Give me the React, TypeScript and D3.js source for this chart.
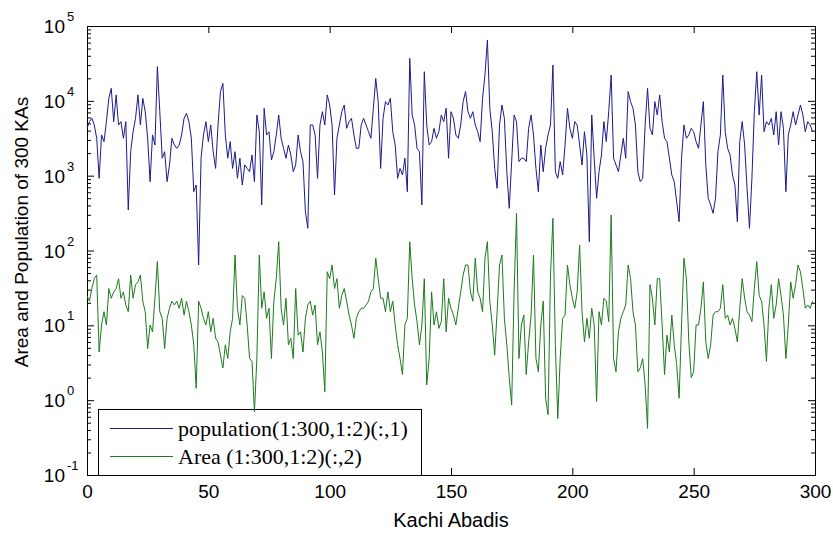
import { useEffect, useRef } from "react";
import * as d3 from "d3";

// Population of the 300 Kachi Abadis
const populationKA: number[] = [
  4290, 5270, 5840, 4760, 3160, 921, 3500, 2850, 5270, 10800,
  14700, 5270, 12000, 4760, 5270, 3160, 5270, 348, 2090, 3870,
  5840, 12000, 4760, 10800, 7160, 3160, 832, 3500, 2570, 28600,
  7160, 1710, 2090, 832, 1390, 3160, 2570, 2320, 2570, 3500,
  5840, 6800, 5270, 3160, 611, 750, 64, 1710, 3500, 5270,
  2850, 4760, 2090, 1250, 4760, 13300, 17100, 3500, 1710, 2850,
  1250, 2090, 921, 1710, 750, 1390, 1250, 1130, 1890, 832,
  6470, 3870, 406, 7940, 3500, 3870, 1620, 2090, 3500, 6470,
  3160, 2320, 1710, 2570, 1890, 1130, 1390, 3500, 2090, 1540,
  330, 198, 4760, 4760, 3500, 921, 4760, 7160, 4760, 12000,
  8800, 4760, 552, 3160, 4760, 7160, 8800, 4290, 5270, 5840,
  3500, 2320, 2320, 4760, 5840, 4760, 3870, 3160, 7940, 19900,
  9750, 1250, 5840, 9750, 8800, 10800, 3870, 2570, 921, 1250,
  1020, 1710, 611, 37000, 6470, 4760, 2320, 2090, 406, 24500,
  4760, 2570, 2850, 4290, 3160, 3870, 6470, 5270, 7940, 1710,
  7160, 5840, 3500, 3160, 4760, 9750, 13300, 7160, 5840, 7160,
  4760, 3870, 2850, 10800, 22100, 65000, 7940, 3870, 1250, 677,
  4760, 8800, 5840, 1130, 366, 1540, 6470, 5270, 1540, 1710,
  1710, 1540, 4290, 6470, 3500, 1250, 611, 2570, 1130, 2320,
  3500, 4760, 30100, 1130, 921, 1540, 1020, 2570, 7940, 4290,
  3160, 5270, 4760, 2570, 1390, 3870, 1890, 131, 6470, 1710,
  498, 1130, 1890, 5270, 2850, 7160, 22100, 1710, 1390, 1130,
  1890, 3160, 1710, 13300, 9750, 7940, 4760, 1130, 832, 921,
  4760, 14700, 4290, 3500, 9750, 6470, 12000, 5270, 3160, 2850,
  1710, 1020, 832, 449, 243, 1710, 4760, 3160, 3500, 4290,
  3870, 2850, 2320, 4760, 9750, 1390, 498, 406, 314, 498,
  2090, 3500, 22100, 3870, 2320, 1890, 1020, 750, 243, 2850,
  5270, 2570, 677, 198, 921, 7160, 24500, 6470, 22100, 3870,
  5270, 4760, 5840, 3500, 7160, 2570, 7160, 4290, 611, 3500,
  4760, 7160, 4760, 6470, 8800, 6470, 3870, 5270, 4760, 3870,
];

// Area of the same 300 KAs
const areaKA: number[] = [
  25, 21, 31, 42, 47, 4.4, 10.1, 15.2, 10.1, 31,
  23, 28, 31, 42, 23, 28, 18.7, 15.2, 47, 23,
  35, 38, 47, 21, 15.2, 4.9, 10.1, 8.2, 23, 71,
  15.2, 12.4, 4.9, 12.4, 16.9, 21, 18.7, 21, 16.9, 23,
  13.7, 21, 15.2, 10.1, 5.5, 1.44, 21, 16.9, 12.4, 10.1,
  15.2, 8.2, 12.4, 6.7, 6.0, 4.0, 2.7, 5.5, 3.6, 8.2,
  12.4, 87, 16.9, 10.1, 25, 23, 10.1, 3.6, 3.3, 0.7,
  3.6, 87, 16.9, 28, 12.4, 16.9, 3.6, 21, 42, 131,
  16.9, 10.1, 23, 5.5, 6.7, 3.6, 31, 7.4, 8.2, 4.4,
  12.4, 18.7, 21, 13.7, 18.7, 5.5, 8.2, 4.4, 1.3, 52,
  42, 64, 31, 42, 16.9, 25, 31, 21, 13.7, 10.1,
  6.7, 12.4, 15.2, 16.9, 16.9, 18.7, 21, 28, 31, 79,
  42, 23, 23, 15.2, 28, 15.2, 21, 10.1, 5.5, 3.6,
  2.2, 10.1, 12.4, 131, 42, 18.7, 11.2, 5.5, 10.1, 42,
  1.6, 3.6, 28, 10.1, 15.2, 9.1, 11.2, 42, 8.2, 23,
  16.9, 13.7, 10.1, 16.9, 28, 47, 64, 64, 28, 21,
  79, 28, 23, 15.2, 79, 131, 21, 10.1, 4.0, 15.2,
  64, 87, 12.4, 5.5, 2.0, 0.86, 28, 314, 3.6, 10.1,
  13.7, 2.2, 6.0, 13.7, 87, 3.6, 2.4, 10.1, 21, 1.06,
  0.64, 47, 269, 5.5, 0.57, 3.6, 12.4, 13.7, 64, 35,
  23, 16.9, 28, 118, 15.2, 6.0, 12.4, 6.7, 16.9, 10.1,
  0.96, 15.2, 10.1, 23, 21, 11.2, 298, 3.6, 2.4, 8.2,
  12.4, 15.2, 18.7, 64, 42, 15.2, 10.1, 2.4, 2.7, 3.6,
  1.6, 0.42, 35, 23, 10.1, 42, 42, 10.1, 2.2, 7.4,
  4.4, 13.7, 5.5, 3.0, 1.06, 10.1, 79, 42, 6.0, 2.0,
  2.4, 10.1, 10.1, 16.9, 38, 6.0, 3.6, 5.5, 13.7, 15.2,
  15.2, 16.9, 35, 12.4, 13.7, 10.1, 12.4, 9.1, 6.0, 16.9,
  42, 23, 15.2, 13.7, 11.2, 31, 71, 25, 21, 10.1,
  3.3, 16.9, 35, 12.4, 18.7, 42, 25, 13.7, 3.6, 10.1,
  38, 23, 35, 64, 52, 31, 16.9, 18.7, 16.9, 21,
];

const xTicks = [0, 50, 100, 150, 200, 250, 300];
const yDomain = [0.1, 100000];
const legendLabels = ["population(1:300,1:2)(:,1)", "Area (1:300,1:2)(:,2)"];
const xLabel = "Kachi Abadis";
const yLabel = "Area and Population of 300 KAs";

const popColor = "#1b1b8c";
const areaColor = "#1d7a1d";
const sans = "'Liberation Sans', Arial, Helvetica, sans-serif";
const serif = "'Liberation Serif', 'Times New Roman', serif";

const App = () => {
  const svgRef = useRef<SVGSVGElement | null>(null);

  useEffect(() => {
    const width = 833;
    const height = 535;
    const margin = { top: 26, right: 18, bottom: 60, left: 87 };
    const innerWidth = width - margin.left - margin.right;
    const innerHeight = height - margin.top - margin.bottom;

    const svg = d3.select(svgRef.current);
    svg.selectAll("*").remove();
    svg.attr("width", width).attr("height", height);

    svg.append("rect").attr("width", width).attr("height", height).attr("fill", "#fff");

    const g = svg.append("g").attr("transform", `translate(${margin.left},${margin.top})`);

    const x = d3.scaleLinear().domain([0, 300]).range([0, innerWidth]);
    const y = d3.scaleLog().domain(yDomain).range([innerHeight, 0]);

    const allTicks = y.ticks();
    const major = allTicks.filter((v) => Math.abs(Math.log10(v) - Math.round(Math.log10(v))) < 1e-9);
    const minor = allTicks.filter((v) => !major.includes(v));

    // ticks pointing inward on all four sides (matlab box)
    const xb = g
      .append("g")
      .attr("transform", `translate(0,${innerHeight})`)
      .call(d3.axisBottom(x).tickValues(xTicks).tickSize(-7).tickSizeOuter(0).tickPadding(10).tickFormat(d3.format("d")));
    xb.select(".domain").remove();
    xb.selectAll("text").attr("font-size", 19).attr("font-family", sans).attr("fill", "#000");

    const xt = g.append("g").call(d3.axisTop(x).tickValues(xTicks).tickSize(-7).tickSizeOuter(0).tickFormat(() => ""));
    xt.select(".domain").remove();

    const addY = (vals: number[], size: number) => {
      const l = g.append("g").call(d3.axisLeft(y).tickValues(vals).tickSize(-size).tickSizeOuter(0).tickFormat(() => ""));
      l.select(".domain").remove();
      const r = g
        .append("g")
        .attr("transform", `translate(${innerWidth},0)`)
        .call(d3.axisRight(y).tickValues(vals).tickSize(-size).tickSizeOuter(0).tickFormat(() => ""));
      r.select(".domain").remove();
    };
    addY(major, 7);
    addY(minor, 4);

    // y tick labels as 10^n
    major.forEach((v) => {
      const e = Math.round(Math.log10(v));
      g.append("text")
        .attr("x", -22)
        .attr("y", y(v) + 7)
        .attr("text-anchor", "end")
        .attr("font-size", 19)
        .attr("font-family", sans)
        .text("10");
      g.append("text")
        .attr("x", -20)
        .attr("y", y(v) - 5)
        .attr("font-size", 13)
        .attr("font-family", sans)
        .text(String(e));
    });

    // frame
    g.append("rect")
      .attr("x", 0.5)
      .attr("y", 0.5)
      .attr("width", innerWidth)
      .attr("height", innerHeight)
      .attr("fill", "none")
      .attr("stroke", "#000");

    // legend
    const lg = g.append("g");
    lg.append("rect")
      .attr("x", 11.5)
      .attr("y", 383.5)
      .attr("width", 323)
      .attr("height", innerHeight - 383)
      .attr("fill", "#fff")
      .attr("stroke", "#000");
    [popColor, areaColor].forEach((c, i) => {
      const ly = 402.5 + i * 28;
      lg.append("line").attr("x1", 23).attr("x2", 86).attr("y1", ly).attr("y2", ly).attr("stroke", c);
      lg.append("text")
        .attr("x", 91)
        .attr("y", ly + 7)
        .attr("font-size", 22)
        .attr("font-family", serif)
        .text(legendLabels[i]);
    });

    const line = d3
      .line<number>()
      .x((_, i) => x(i))
      .y((d) => y(d));

    g.append("path").datum(populationKA).attr("fill", "none").attr("stroke", popColor).attr("stroke-width", 1).attr("d", line);
    g.append("path").datum(areaKA).attr("fill", "none").attr("stroke", areaColor).attr("stroke-width", 1).attr("d", line);

    // axis titles
    svg
      .append("text")
      .attr("x", margin.left + innerWidth / 2)
      .attr("y", 527)
      .attr("text-anchor", "middle")
      .attr("font-size", 20)
      .attr("font-family", sans)
      .text(xLabel);

    svg
      .append("text")
      .attr("transform", "translate(28,232) rotate(-90)")
      .attr("text-anchor", "middle")
      .attr("font-size", 19)
      .attr("font-family", sans)
      .text(yLabel);
  }, []);

  return <svg ref={svgRef} style={{ position: "absolute", left: 0, top: 0, display: "block" }} />;
};

export default App;
